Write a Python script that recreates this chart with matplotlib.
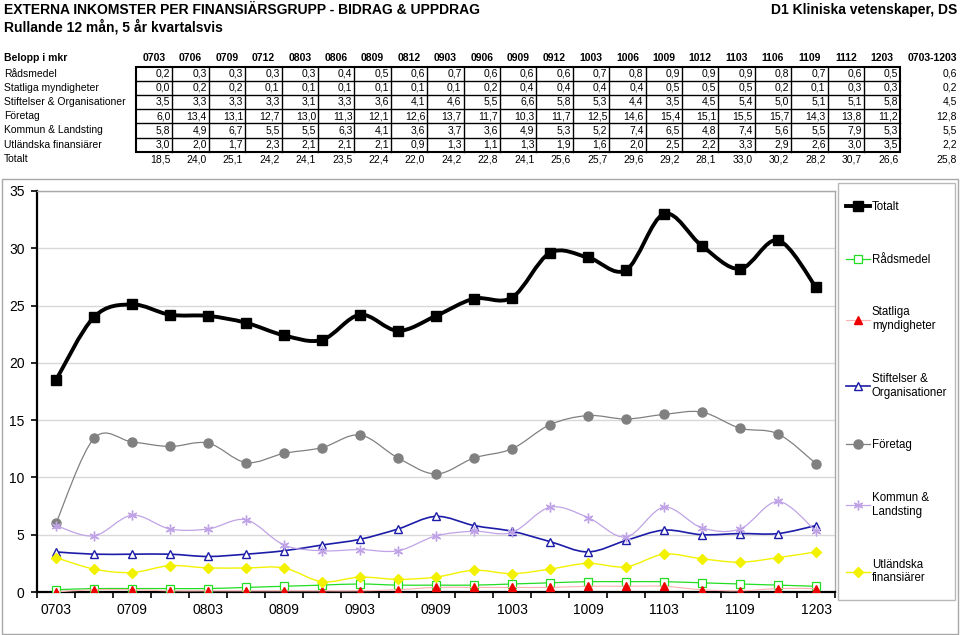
import matplotlib.pyplot as plt
import numpy as np
from matplotlib.path import Path
from matplotlib.patches import PathPatch, Rectangle
from matplotlib.lines import Line2D

plt.rcParams['font.family'] = ['Liberation Sans', 'DejaVu Sans']

kvartal = ["0703", "0706", "0709", "0712", "0803", "0806", "0809", "0812",
           "0903", "0906", "0909", "0912", "1003", "1006", "1009", "1012",
           "1103", "1106", "1109", "1112", "1203"]

radsmedel = [0.2, 0.3, 0.3, 0.3, 0.3, 0.4, 0.5, 0.6, 0.7, 0.6, 0.6, 0.6, 0.7, 0.8, 0.9, 0.9, 0.9, 0.8, 0.7, 0.6, 0.5]
statliga = [0.0, 0.2, 0.2, 0.1, 0.1, 0.1, 0.1, 0.1, 0.1, 0.2, 0.4, 0.4, 0.4, 0.4, 0.5, 0.5, 0.5, 0.2, 0.1, 0.3, 0.3]
stiftelser = [3.5, 3.3, 3.3, 3.3, 3.1, 3.3, 3.6, 4.1, 4.6, 5.5, 6.6, 5.8, 5.3, 4.4, 3.5, 4.5, 5.4, 5.0, 5.1, 5.1, 5.8]
foretag = [6.0, 13.4, 13.1, 12.7, 13.0, 11.3, 12.1, 12.6, 13.7, 11.7, 10.3, 11.7, 12.5, 14.6, 15.4, 15.1, 15.5, 15.7, 14.3, 13.8, 11.2]
kommun = [5.8, 4.9, 6.7, 5.5, 5.5, 6.3, 4.1, 3.6, 3.7, 3.6, 4.9, 5.3, 5.2, 7.4, 6.5, 4.8, 7.4, 5.6, 5.5, 7.9, 5.3]
utlandska = [3.0, 2.0, 1.7, 2.3, 2.1, 2.1, 2.1, 0.9, 1.3, 1.1, 1.3, 1.9, 1.6, 2.0, 2.5, 2.2, 3.3, 2.9, 2.6, 3.0, 3.5]
totalt = [18.5, 24.0, 25.1, 24.2, 24.1, 23.5, 22.4, 22.0, 24.2, 22.8, 24.1, 25.6, 25.7, 29.6, 29.2, 28.1, 33.0, 30.2, 28.2, 30.7, 26.6]

radnamn = ["Rådsmedel", "Statliga myndigheter", "Stiftelser & Organisationer",
           "Företag", "Kommun & Landsting", "Utländska finansiärer"]
snitt = [0.6, 0.2, 4.5, 12.8, 5.5, 2.2, 25.8]

legend_namn = ["Totalt", "Rådsmedel", "Statliga\nmyndigheter", "Stiftelser &\nOrganisationer",
               "Företag", "Kommun &\nLandsting", "Utländska\nfinansiärer"]


def komma(v):
    return f"{v:.1f}".replace(".", ",")


def smooth_path(y):
    # Bezier curve through the points (like Excel's smoothed line)
    pts = np.column_stack([np.arange(len(y)), np.asarray(y, float)])
    n = len(pts)
    verts = [pts[0]]
    codes = [Path.MOVETO]
    for i in range(n - 1):
        p0 = pts[max(i - 1, 0)]
        p1 = pts[i]
        p2 = pts[i + 1]
        p3 = pts[min(i + 2, n - 1)]
        verts += [p1 + (p2 - p0) / 6, p2 - (p3 - p1) / 6, p2]
        codes += [Path.CURVE4] * 3
    return Path(verts, codes)


W, H = 960, 635
fig = plt.figure(figsize=(9.6, 6.35), dpi=100)

# top part: titles and table, drawn in pixel coords
tab = fig.add_axes([0, 0, 1, 1])
tab.set_xlim(0, W)
tab.set_ylim(H, 0)
tab.axis('off')

tab.text(4, 10, "EXTERNA INKOMSTER PER FINANSIÄRSGRUPP - BIDRAG & UPPDRAG",
         fontsize=10, fontweight='bold', va='center')
tab.text(4, 27, "Rullande 12 mån, 5 år kvartalsvis", fontsize=10, fontweight='bold', va='center')
tab.text(957, 10, "D1 Kliniska vetenskaper, DS", fontsize=10, fontweight='bold', va='center', ha='right')

x0, cw = 136, 36.4
y0, rh = 66.5, 14.2
ts = 7.5
tab.text(4, 58, "Belopp i mkr", fontsize=ts, fontweight='bold', va='center')
for c, k in enumerate(kvartal):
    tab.text(x0 + cw * (c + 0.5), 58, k, fontsize=ts, fontweight='bold', va='center', ha='center')
tab.text(957, 58, "0703-1203", fontsize=ts, fontweight='bold', va='center', ha='right')

rader = [radsmedel, statliga, stiftelser, foretag, kommun, utlandska]
for r, (namn, vals) in enumerate(zip(radnamn, rader)):
    yc = y0 + rh * (r + 0.5)
    tab.text(4, yc, namn, fontsize=ts, va='center')
    for c, v in enumerate(vals):
        tab.text(x0 + cw * (c + 1) - 2, yc, komma(v), fontsize=ts, va='center', ha='right')
    tab.text(957, yc, komma(snitt[r]), fontsize=ts, va='center', ha='right')

tab.text(4, 159, "Totalt", fontsize=ts, va='center')
for c, v in enumerate(totalt):
    tab.text(x0 + cw * (c + 1) - 2, 159, komma(v), fontsize=ts, va='center', ha='right')
tab.text(957, 159, komma(snitt[6]), fontsize=ts, va='center', ha='right')

for c in range(1, len(kvartal)):
    tab.plot([x0 + cw * c] * 2, [y0, y0 + rh * 6], color='black', lw=1.0)
for r in range(1, 6):
    tab.plot([x0, x0 + cw * len(kvartal)], [y0 + rh * r] * 2, color='black', lw=1.0)
tab.add_patch(Rectangle((x0, y0), cw * len(kvartal), rh * 6, fill=False, ec='black', lw=1.5))

# chart frame and legend frame
tab.add_patch(Rectangle((2, 179), 956, 455, fill=False, ec='#A8A8A8', lw=1))
tab.add_patch(Rectangle((838, 183), 117, 417, fill=False, ec='#B8B8B8', lw=1))

# chart
ax = fig.add_axes([37 / W, 1 - 592 / H, 798 / W, (592 - 191) / H])
x = np.arange(len(kvartal))

serier = [
    (radsmedel, '#22DD22', 0.9, dict(marker='s', ms=5.5, mfc='white', mec='#22DD22', mew=0.9)),
    (statliga, '#FFB0B0', 0.8, dict(marker='^', ms=6, mfc='#EE0000', mec='#EE0000')),
    (stiftelser, '#1C1CA8', 1.2, dict(marker='^', ms=6, mfc='white', mec='#1C1CA8', mew=1.0)),
    (foretag, '#808080', 0.9, dict(marker='o', ms=6.5, mfc='#808080', mec='#808080')),
    (kommun, '#BFA3E6', 0.9, dict(marker=(6, 2, 0), ms=7, mfc='#BFA3E6', mec='#BFA3E6', mew=1.0)),
    (utlandska, '#F2F200', 1.0, dict(marker='D', ms=5, mfc='#F2F200', mec='#F2F200')),
    (totalt, 'black', 2.8, dict(marker='s', ms=7, mfc='black', mec='black')),
]

handles = []
for i, (vals, farg, lw, mk) in enumerate(serier):
    ax.add_patch(PathPatch(smooth_path(vals), fill=False, ec=farg, lw=lw, zorder=3 + i))
    ax.plot(x, vals, ls='none', zorder=3.5 + i, **mk)
    handles.append(Line2D([], [], color=farg, lw=lw, **mk))

handles = [handles[6]] + handles[:6]

ax.set_xlim(-0.5, len(kvartal) - 0.5)
ax.set_ylim(0, 35)
ax.set_yticks(range(0, 36, 5))
ax.yaxis.grid(True, color='#D8D8D8', lw=1)
ax.set_axisbelow(True)

ax.set_xticks(np.arange(-0.5, len(kvartal), 1))
ax.set_xticklabels([])
ax.set_xticks(x[::2], minor=True)
ax.set_xticklabels(kvartal[::2], minor=True)
ax.tick_params(axis='x', which='major', direction='out', length=4, width=1.2)
ax.tick_params(axis='x', which='minor', length=0, pad=8, labelsize=10)
ax.tick_params(axis='y', direction='out', length=4, width=1.2, pad=5, labelsize=10)

for s in ['top', 'right']:
    ax.spines[s].set_color('#A8A8A8')
    ax.spines[s].set_linewidth(1)
for s in ['left', 'bottom']:
    ax.spines[s].set_linewidth(1.6)

ax.legend(handles, legend_namn, loc='upper left', bbox_to_anchor=(846 / W, 1 - 201 / H),
          bbox_transform=fig.transFigure, frameon=False, fontsize=8.3, handlelength=2.1,
          handletextpad=0.15, labelspacing=3.53, borderpad=0, borderaxespad=0)

plt.savefig("out.png", dpi=100)
